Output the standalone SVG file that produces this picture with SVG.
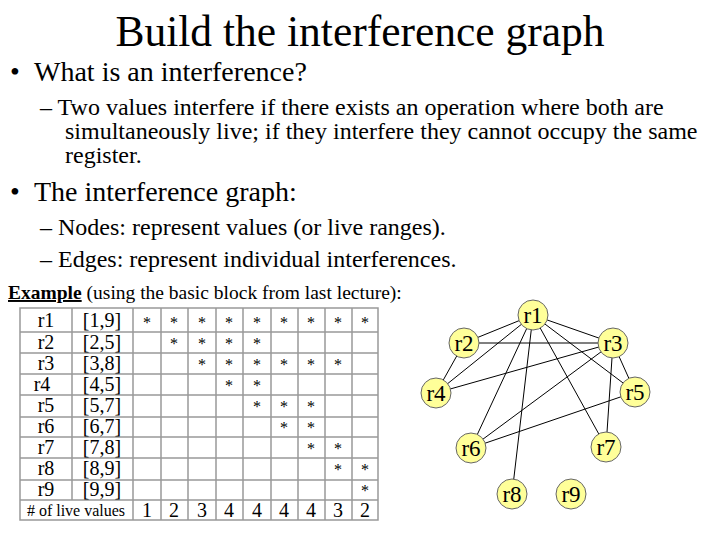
<svg xmlns="http://www.w3.org/2000/svg" width="720" height="540" viewBox="0 0 720 540">
<style>
text{font-family:"Liberation Serif",serif;fill:#000}
.t{font-size:20px;text-anchor:middle}
.s{font-size:16px;text-anchor:middle}
.n circle{fill:#ffff99;stroke:#666;stroke-width:1}
.n text{font-size:23px;text-anchor:middle}
.g line{stroke:#000;stroke-width:1}
.tb line{stroke:#999;stroke-width:1.5}
</style>
<rect width="720" height="540" fill="#fff"/>
<text x="360" y="46" font-size="43.5" text-anchor="middle">Build the interference graph</text>
<text x="10" y="81" font-size="28">•</text><text x="34" y="81" font-size="28">What is an interference?</text>
<text x="40" y="115" font-size="24">– Two values interfere if there exists an operation where both are</text>
<text x="65" y="139" font-size="24">simultaneously live; if they interfere they cannot occupy the same</text>
<text x="65" y="163" font-size="24">register.</text>
<text x="10" y="201" font-size="28">•</text><text x="34" y="201" font-size="28">The interference graph:</text>
<text x="40" y="235" font-size="24">– Nodes: represent values (or live ranges).</text>
<text x="40" y="267" font-size="24">– Edges: represent individual interferences.</text>
<text x="8" y="299" font-size="19.5"><tspan text-decoration="underline" font-weight="bold">Example</tspan> (using the basic block from last lecture):</text>
<g class="tb">
<rect x="20" y="308" width="358" height="212" fill="none" stroke="#999" stroke-width="1.5"/>
<line x1="20" y1="332" x2="378" y2="332"/><line x1="20" y1="353" x2="378" y2="353"/><line x1="20" y1="374" x2="378" y2="374"/><line x1="20" y1="395" x2="378" y2="395"/><line x1="20" y1="417" x2="378" y2="417"/><line x1="20" y1="437" x2="378" y2="437"/><line x1="20" y1="458" x2="378" y2="458"/><line x1="20" y1="480" x2="378" y2="480"/><line x1="20" y1="500" x2="378" y2="500"/>
<line x1="72" y1="308" x2="72" y2="500"/><line x1="133" y1="308" x2="133" y2="520"/><line x1="161" y1="308" x2="161" y2="520"/><line x1="188" y1="308" x2="188" y2="520"/><line x1="216" y1="308" x2="216" y2="520"/><line x1="243" y1="308" x2="243" y2="520"/><line x1="271" y1="308" x2="271" y2="520"/><line x1="298" y1="308" x2="298" y2="520"/><line x1="325" y1="308" x2="325" y2="520"/><line x1="352" y1="308" x2="352" y2="520"/>
</g>
<g>
<text class="t" x="46" y="327">r1</text><text class="t" x="102" y="327">[1,9]</text>
<text class="t" x="46" y="349">r2</text><text class="t" x="102" y="349">[2,5]</text>
<text class="t" x="46" y="370">r3</text><text class="t" x="102" y="370">[3,8]</text>
<text class="t" x="42" y="391">r4</text><text class="t" x="102" y="391">[4,5]</text>
<text class="t" x="46" y="412">r5</text><text class="t" x="102" y="412">[5,7]</text>
<text class="t" x="46" y="433">r6</text><text class="t" x="102" y="433">[6,7]</text>
<text class="t" x="46" y="454">r7</text><text class="t" x="102" y="454">[7,8]</text>
<text class="t" x="46" y="475">r8</text><text class="t" x="102" y="475">[8,9]</text>
<text class="t" x="46" y="496">r9</text><text class="t" x="102" y="496">[9,9]</text>
<text class="s" x="76" y="516"># of live values</text>
<text class="t" x="147" y="517">1</text><text class="t" x="174" y="517">2</text><text class="t" x="202" y="517">3</text><text class="t" x="229" y="517">4</text><text class="t" x="257" y="517">4</text><text class="t" x="284" y="517">4</text><text class="t" x="311" y="517">4</text><text class="t" x="338" y="517">3</text><text class="t" x="365" y="517">2</text>
</g>
<g font-size="16" text-anchor="middle">
<text x="147" y="328">*</text><text x="174" y="328">*</text><text x="202" y="328">*</text><text x="229" y="328">*</text><text x="257" y="328">*</text><text x="284" y="328">*</text><text x="311" y="328">*</text><text x="338" y="328">*</text><text x="365" y="328">*</text>
<text x="174" y="349">*</text><text x="202" y="349">*</text><text x="229" y="349">*</text><text x="257" y="349">*</text>
<text x="202" y="370">*</text><text x="229" y="370">*</text><text x="257" y="370">*</text><text x="284" y="370">*</text><text x="311" y="370">*</text><text x="338" y="370">*</text>
<text x="229" y="391">*</text><text x="257" y="391">*</text>
<text x="257" y="412">*</text><text x="284" y="412">*</text><text x="311" y="412">*</text>
<text x="284" y="433">*</text><text x="311" y="433">*</text>
<text x="311" y="454">*</text><text x="338" y="454">*</text>
<text x="338" y="475">*</text><text x="365" y="475">*</text>
<text x="365" y="496">*</text>
</g>
<g id="edges" class="g">
<line x1="533" y1="315" x2="464" y2="343"/><line x1="533" y1="315" x2="613" y2="343"/><line x1="533" y1="315" x2="436" y2="393"/><line x1="533" y1="315" x2="471" y2="448"/><line x1="533" y1="315" x2="512" y2="494"/><line x1="533" y1="315" x2="606" y2="447"/><line x1="533" y1="315" x2="635" y2="392"/>
<line x1="464" y1="343" x2="613" y2="343"/><line x1="464" y1="343" x2="436" y2="393"/>
<line x1="613" y1="343" x2="436" y2="393"/><line x1="613" y1="343" x2="471" y2="448"/><line x1="613" y1="343" x2="606" y2="447"/><line x1="613" y1="343" x2="635" y2="392"/>
<line x1="635" y1="392" x2="471" y2="448"/>
</g>
<g id="r1" class="n"><circle cx="533" cy="315" r="15"/><text x="533" y="323">r1</text></g>
<g id="r2" class="n"><circle cx="464" cy="343" r="15"/><text x="464" y="351">r2</text></g>
<g id="r3" class="n"><circle cx="613" cy="343" r="15"/><text x="613" y="351">r3</text></g>
<g id="r4" class="n"><circle cx="436" cy="393" r="15"/><text x="436" y="401">r4</text></g>
<g id="r5" class="n"><circle cx="635" cy="392" r="15"/><text x="635" y="400">r5</text></g>
<g id="r6" class="n"><circle cx="471" cy="448" r="15"/><text x="471" y="456">r6</text></g>
<g id="r7" class="n"><circle cx="606" cy="447" r="15"/><text x="606" y="455">r7</text></g>
<g id="r8" class="n"><circle cx="512" cy="494" r="15"/><text x="512" y="502">r8</text></g>
<g id="r9" class="n"><circle cx="571" cy="494" r="15"/><text x="571" y="502">r9</text></g>
</svg>
